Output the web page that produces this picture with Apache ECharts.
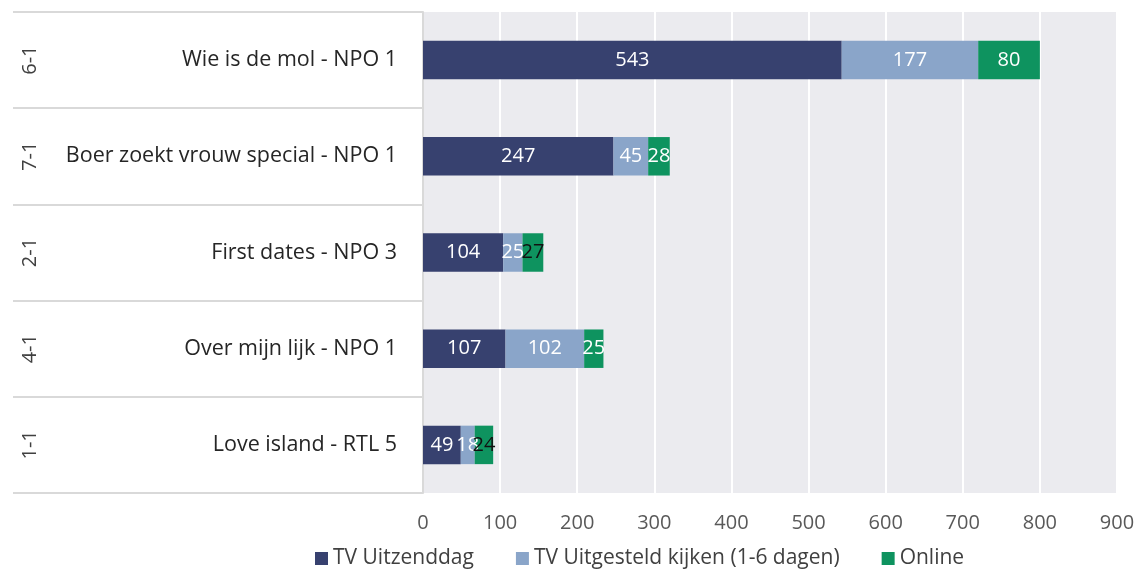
<!DOCTYPE html>
<html lang="nl">
<head>
    <meta charset="UTF-8">
    <title>Kijkcijfers</title>
    <script src="https://cdn.jsdelivr.net/npm/echarts@6/dist/echarts.min.js"></script>
    <style>
        html, body { margin: 0; padding: 0; background: #fff; }
    </style>
</head>
<body>
    <div id="main" style="width: 1142px;height:571px;"></div>
    <script type="text/javascript">
        // data
        var programmas = ['Wie is de mol - NPO 1', 'Boer zoekt vrouw special - NPO 1', 'First dates - NPO 3', 'Over mijn lijk - NPO 1', 'Love island - RTL 5'];
        var datums = ['6-1', '7-1', '2-1', '4-1', '1-1'];
        var tvUitzenddag = [543, 247, 104, 107, 49];
        var tvUitgesteld = [177, 45, 25, 102, 18];
        var online = [80, 28, 27, 25, 24];
        var xTicks = [0, 100, 200, 300, 400, 500, 600, 700, 800, 900];

        var font = 'Open Sans';
        // labels that spill out of the green bar are black
        var donkerLabel = [2, 4];

        var myChart = echarts.init(document.getElementById('main'));

        function maakSerie(naam, waarden, kleur, donker) {
            return {
                name: naam,
                type: 'bar',
                stack: 'totaal',
                barWidth: '40%',
                itemStyle: { color: kleur },
                label: {
                    show: true,
                    position: 'inside',
                    color: '#fff',
                    fontFamily: font,
                    fontSize: 20
                },
                data: waarden.map(function (v, i) {
                    if (donker && donkerLabel.indexOf(i) >= 0) {
                        return { value: v, label: { color: '#111' } };
                    }
                    return v;
                })
            };
        }

        var option = {
            animation: false,
            textStyle: { fontFamily: font },
            grid: {
                left: 423,
                right: 25,
                top: 12,
                bottom: 78,
                show: true,
                backgroundColor: '#ebebef',
                borderWidth: 0
            },
            legend: {
                left: 310,
                top: 543,
                itemWidth: 13,
                itemHeight: 13,
                itemGap: 42,
                icon: 'rect',
                textStyle: { fontSize: 21, color: '#404040', fontFamily: font },
                data: ['TV Uitzenddag', 'TV Uitgesteld kijken (1-6 dagen)', 'Online']
            },
            xAxis: {
                type: 'value',
                min: xTicks[0],
                max: xTicks[xTicks.length - 1],
                interval: 100,
                axisLine: { show: false },
                axisTick: { show: false },
                axisLabel: { fontSize: 20, color: '#595959', margin: 20 },
                splitLine: { lineStyle: { color: '#ffffff', width: 2 } }
            },
            yAxis: [
                {
                    type: 'category',
                    inverse: true,
                    data: programmas,
                    axisLine: { show: true, lineStyle: { color: '#d9d9d9', width: 2 } },
                    axisTick: { show: true, length: 410, lineStyle: { color: '#d9d9d9', width: 2 } },
                    axisLabel: { fontSize: 21.5, color: '#262626', margin: 26, align: 'right' }
                },
                {
                    type: 'category',
                    inverse: true,
                    position: 'left',
                    offset: 375,
                    data: datums,
                    axisLine: { show: false },
                    axisTick: { show: false },
                    axisLabel: { fontSize: 20, color: '#404040', rotate: 90, margin: 8 }
                }
            ],
            series: [
                maakSerie('TV Uitzenddag', tvUitzenddag, '#37416f', false),
                maakSerie('TV Uitgesteld kijken (1-6 dagen)', tvUitgesteld, '#8aa5c9', false),
                maakSerie('Online', online, '#0e935f', true)
            ]
        };

        myChart.setOption(option);
    </script>
</body>
</html>
